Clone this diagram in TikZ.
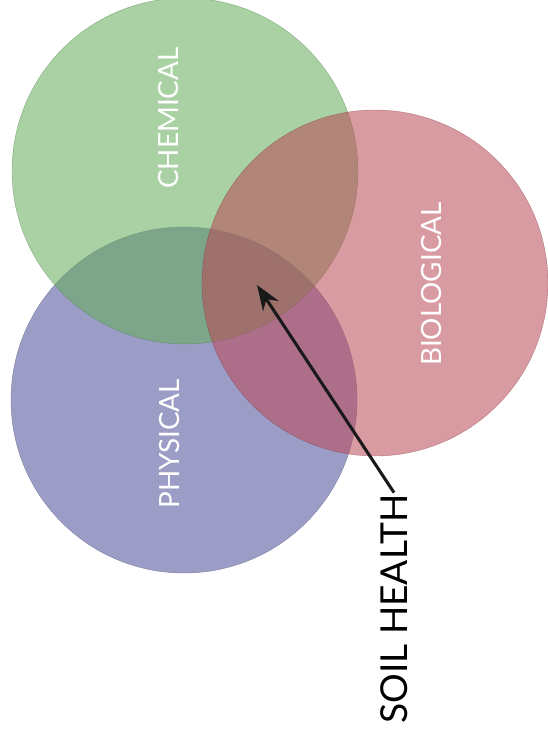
\documentclass[tikz,border=0pt]{standalone}
\usepackage{fontspec}
\setmainfont{Lato}
\usepackage{xcolor}
\usetikzlibrary{arrows.meta}

\definecolor{physblue}{RGB}{155,157,199}
\definecolor{chemgreen}{RGB}{101,173,91}
\definecolor{biored}{RGB}{186,72,86}

\begin{document}
\begin{tikzpicture}[x=0.0265cm,y=-0.0265cm]

\useasboundingbox (0,0) rectangle (548,740);

% Circles
\filldraw[
  fill=physblue, draw=physblue!80!black,
  line width=0.3pt
] (184,400) circle [radius=173];

\filldraw[
  fill=chemgreen, fill opacity=0.56,
  draw=chemgreen!70!black, draw opacity=0.5,
  line width=0.3pt
] (185,171) circle [radius=173];

\filldraw[
  fill=biored, fill opacity=0.55,
  draw=biored!70!black, draw opacity=0.5,
  line width=0.3pt
] (375,283) circle [radius=173];

% Labels
\node[
  rotate=90, text=white,
  font=\fontsize{21}{21}\selectfont
] (chemical) at (169,118) {CHEMICAL};

\node[
  rotate=90, text=white,
  font=\fontsize{21}{21}\selectfont
] (biological) at (432,284) {BIOLOGICAL};

\node[
  rotate=90, text=white,
  font=\fontsize{21}{21}\selectfont
] (physical) at (170,444) {PHYSICAL};

\node[
  rotate=90, inner sep=1pt,
  font=\fontsize{28}{28}\selectfont
] (soil) at (394,609) {SOIL HEALTH};

% Arrow into the middle
\coordinate (core) at (257,285);
\draw[-{Stealth[length=19pt,width=14pt]},line width=2.3pt,black!90]
  (soil.east) -- (core);

\end{tikzpicture}
\end{document}
